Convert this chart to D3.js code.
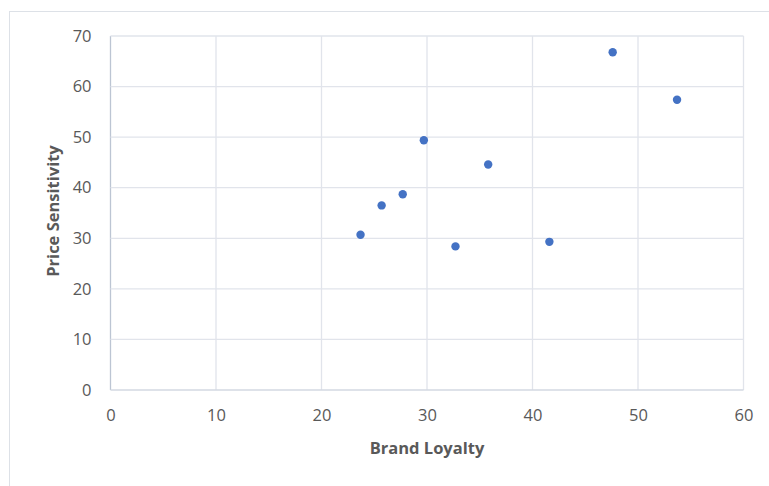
<!DOCTYPE html>
<html>
<head>
<meta charset="utf-8">
<script src="https://cdn.jsdelivr.net/npm/d3@7"></script>
<style>
  html, body { margin: 0; padding: 0; background: #fff; }
  svg { display: block; }
</style>
</head>
<body>
<svg id="chart" width="769" height="486"></svg>
<script>
// Brand loyalty vs. price sensitivity observations
const brandLoyalty     = [23.7, 25.7, 27.7, 29.7, 32.7, 35.8, 41.6, 47.6, 53.7];
const priceSensitivity = [30.7, 36.5, 38.7, 49.4, 28.4, 44.6, 29.3, 66.8, 57.4];
const xTicks = [0, 10, 20, 30, 40, 50, 60];
const yTicks = [0, 10, 20, 30, 40, 50, 60, 70];

const points = brandLoyalty.map((x, i) => ({ x, y: priceSensitivity[i] }));

const svg = d3.select("#chart");
const plot = { left: 110.5, right: 743.5, top: 36, bottom: 390 };
const font = "'Open Sans', 'Segoe UI', sans-serif";
const textColor = "#595959";

// Outer chart frame
svg.append("rect")
  .attr("x", 9.5).attr("y", 11.5)
  .attr("width", 780).attr("height", 500)
  .attr("fill", "#fff")
  .attr("stroke", "#dde1e7").attr("stroke-width", 1);

const x = d3.scaleLinear().domain([0, 60]).range([plot.left, plot.right]);
const y = d3.scaleLinear().domain([0, 70]).range([plot.bottom, plot.top]);

// Gridlines
const grid = svg.append("g");
grid.selectAll("line.v").data(xTicks).join("line")
  .attr("x1", d => x(d)).attr("x2", d => x(d))
  .attr("y1", plot.top).attr("y2", plot.bottom)
  .attr("stroke", d => d === 0 ? "#bcc5d3" : "#e1e4eb").attr("stroke-width", 1.3);
grid.selectAll("line.h").data(yTicks).join("line")
  .attr("x1", plot.left).attr("x2", plot.right)
  .attr("y1", d => y(d)).attr("y2", d => y(d))
  .attr("stroke", d => d === 0 ? "#d3d9e2" : "#e1e4eb").attr("stroke-width", 1.3);

// Axes (labels only; lines drawn by the grid)
const xAxis = svg.append("g")
  .attr("transform", `translate(0,${plot.bottom})`)
  .call(d3.axisBottom(x).tickValues(xTicks).tickSize(0).tickPadding(19));
const yAxis = svg.append("g")
  .attr("transform", `translate(${plot.left},0)`)
  .call(d3.axisLeft(y).tickValues(yTicks).tickSize(0).tickPadding(19));
[xAxis, yAxis].forEach(a => {
  a.select(".domain").remove();
  a.selectAll("text")
    .attr("fill", textColor)
    .style("font-family", font)
    .style("font-size", "16.5px");
});

// Axis titles
svg.append("text")
  .attr("x", 427).attr("y", 454)
  .attr("text-anchor", "middle")
  .attr("fill", textColor)
  .style("font-family", font).style("font-size", "16.5px").style("font-weight", "bold")
  .text("Brand Loyalty");
svg.append("text")
  .attr("transform", "translate(58.5,211) rotate(-90)")
  .attr("text-anchor", "middle")
  .attr("fill", textColor)
  .style("font-family", font).style("font-size", "16.5px").style("font-weight", "bold")
  .text("Price Sensitivity");

// Markers
svg.append("g").selectAll("circle").data(points).join("circle")
  .attr("cx", d => x(d.x))
  .attr("cy", d => y(d.y))
  .attr("r", 4.2)
  .attr("fill", "#4472c4");
</script>
</body>
</html>
